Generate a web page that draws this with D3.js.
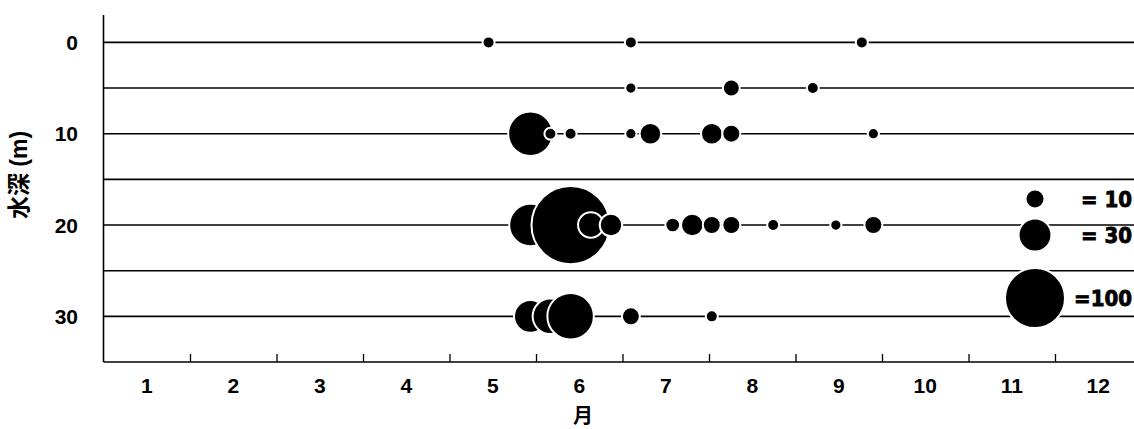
<!DOCTYPE html>
<html>
<head>
<meta charset="utf-8">
<script src="https://cdn.jsdelivr.net/npm/d3@7"></script>
<style>
  body{margin:0;background:#fff;}
  svg{display:block;}
  .tick-label{font-family:"Liberation Sans",Arial,"Noto Sans CJK JP",sans-serif;font-weight:bold;font-size:21px;fill:#000;}
  .legend-label{font-family:"Liberation Sans Narrow","DejaVu Sans Condensed",sans-serif;font-weight:bold;font-size:22px;fill:#000;stroke:#000;stroke-width:0.8px;}
</style>
</head>
<body>
<script>
// data: sampling dates (MM-DD) and counts per depth
var months = ['1','2','3','4','5','6','7','8','9','10','11','12'];
var gridDepths = [0,5,10,15,20,25,30];
var yTicks = [0,10,20,30];

var dates_0m = ['05-15','07-04','09-24'];
var counts_0m = [4,4,4];
var dates_5m = ['07-04','08-09','09-07'];
var counts_5m = [3.5,8,4];
var dates_10m = ['05-30','06-06','06-13','07-04','07-11','08-02','08-09','09-28'];
var counts_10m = [55,4,4,3.5,13,13,9,3.5];
var dates_20m = ['05-30','06-13','06-20','06-27','07-19','07-26','08-02','08-09','08-24','09-15','09-28'];
var counts_20m = [50,170,18,14,6,14,9,9,4,3.5,9];
var dates_30m = ['05-30','06-06','06-13','07-04','08-02'];
var counts_30m = [30,35,60,9,4];

var legendValues = [10,30,100];
var legendLabels = ['= 10','= 30','=100'];

var W = 1134, H = 429;
var plotLeft = 103.5, plotTop = 15, plotBottom = 362;
var daysIn = [31,28,31,30,31,30,31,31,30,31,30,31];

function monthPos(s){
  var m = +s.slice(0,2), d = +s.slice(3,5);
  return (m-1) + (d-1)/daysIn[m-1];
}

var rows = [
  {depth:0, dates:dates_0m, counts:counts_0m},
  {depth:5, dates:dates_5m, counts:counts_5m},
  {depth:10, dates:dates_10m, counts:counts_10m},
  {depth:20, dates:dates_20m, counts:counts_20m},
  {depth:30, dates:dates_30m, counts:counts_30m}
];

var xScale = d3.scaleLinear().domain([0,12]).range([plotLeft, plotLeft+12*86.5]);
var yScale = d3.scaleLinear().domain([-3,35]).range([plotTop,plotBottom]);
var rScale = d3.scaleSqrt().domain([0,100]).range([0,30]);

var svg = d3.select('body').append('svg')
  .attr('width',W).attr('height',H);

// horizontal depth lines
svg.append('g').selectAll('line').data(gridDepths).enter()
  .append('line')
  .attr('x1',plotLeft).attr('x2',W)
  .attr('y1',function(d){return yScale(d);})
  .attr('y2',function(d){return yScale(d);})
  .style('stroke','#000').style('stroke-width',1.6);

// left axis line + labels
svg.append('line').attr('x1',plotLeft).attr('x2',plotLeft)
  .attr('y1',plotTop).attr('y2',plotBottom)
  .style('stroke','#000').style('stroke-width',1.6);
svg.append('g').selectAll('text').data(yTicks).enter()
  .append('text').attr('class','tick-label')
  .attr('x',78).attr('y',function(d){return yScale(d);})
  .attr('dy','0.36em').attr('text-anchor','end')
  .text(function(d){return d;});

// bottom axis: ticks on month boundaries, labels centred in months
var xAxis = d3.axisBottom(xScale)
  .tickValues(d3.range(1,12))
  .tickSizeInner(-8).tickSizeOuter(0)
  .tickFormat('');
var gx = svg.append('g').attr('transform','translate(0,'+plotBottom+')').call(xAxis);
gx.select('.domain').attr('d','M'+plotLeft+',0H'+W).style('stroke-width',1.6);
gx.selectAll('.tick line').style('stroke-width',1.3);

svg.append('g').selectAll('text').data(months).enter()
  .append('text').attr('class','tick-label')
  .attr('x',function(d,i){return xScale(i+0.5);})
  .attr('y',393).attr('text-anchor','middle')
  .text(function(d){return d;});

svg.append('text').attr('class','tick-label')
  .attr('x',583).attr('y',423).attr('text-anchor','middle')
  .style('font-size','20px')
  .text('月');

svg.append('text').attr('class','tick-label')
  .attr('transform','translate(27,175) rotate(-90)')
  .attr('text-anchor','middle')
  .style('font-size','23px')
  .text('水深 (m)');

// bubbles, drawn left to right so later ones sit on top
rows.forEach(function(row){
  var pts = row.dates.map(function(d,i){return {x:monthPos(d), v:row.counts[i]};});
  svg.append('g').selectAll('circle').data(pts).enter()
    .append('circle')
    .attr('cx',function(d){return xScale(d.x);})
    .attr('cy',yScale(row.depth))
    .attr('r',function(d){return rScale(d.v);})
    .style('fill','#000').style('stroke','#fff').style('stroke-width',2);
});

// size legend
var legendY = [199,235,298];
var lg = svg.append('g');
lg.selectAll('circle').data(legendValues).enter()
  .append('circle')
  .attr('cx',1035).attr('cy',function(d,i){return legendY[i];})
  .attr('r',function(d){return rScale(d);})
  .style('fill','#000').style('stroke','#fff').style('stroke-width',2);
lg.selectAll('text').data(legendLabels).enter()
  .append('text').attr('class','legend-label')
  .attr('x',1132).attr('y',function(d,i){return legendY[i];})
  .attr('dy','0.36em').attr('text-anchor','end')
  .text(function(d){return d;});
</script>
</body>
</html>
